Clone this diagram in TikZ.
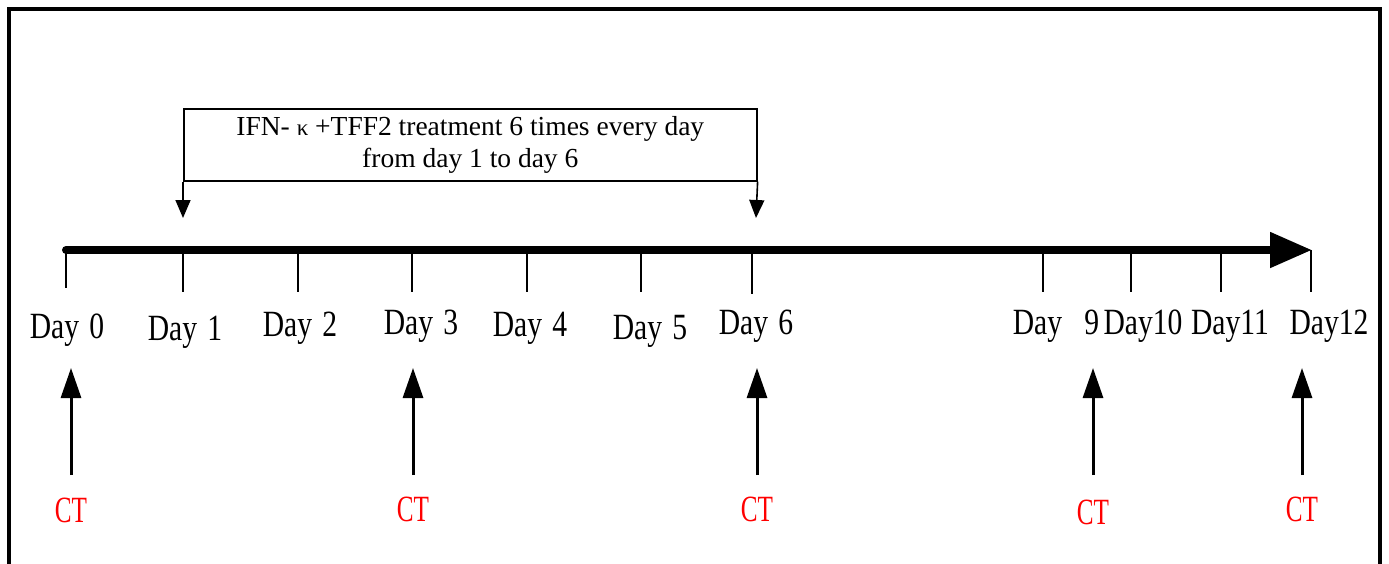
\documentclass[tikz,border=0pt]{standalone}
\usepackage{fontspec}
\setmainfont{Liberation Serif}
\usetikzlibrary{arrows.meta}
\begin{document}
\begin{tikzpicture}[x=1pt,y=-1pt,
  frame/.style={line width=4pt},
  tick/.style={line width=1.8pt},
  daylbl/.style={font=\fontsize{37}{37}\selectfont, anchor=base, inner sep=0pt},
  ctlbl/.style={font=\fontsize{37}{37}\selectfont, text=red, anchor=base, inner sep=0pt},
  ctarrow/.style={line width=3pt, -{Triangle[length=30pt,width=20pt]}},
  treatbox/.style={draw, line width=1.6pt, minimum width=573pt, minimum height=72pt, anchor=north west, inner sep=0pt, align=center, font=\fontsize{27.5}{32}\selectfont},
  treatarrow/.style={line width=1.6pt, -{Triangle[length=18pt,width=15pt]}},
  axis/.style={line width=8pt, line cap=round, -{Triangle[length=42pt,width=34pt]}}
]
\useasboundingbox (0,0) rectangle (1389,563);
% outer frame
\coordinate (fbl) at (9,600);
\coordinate (ftl) at (9,9);
\coordinate (ftr) at (1380,9);
\coordinate (fbr) at (1380,600);
\draw[frame] (fbl) -- (ftl) -- (ftr) -- (fbr);

% treatment box
\node[treatbox] (box) at (183,108) {\raisebox{-2pt}{IFN- {\fontsize{23}{23}\selectfont κ} +TFF2 treatment 6 times every day}\\\raisebox{-2pt}{from day 1 to day 6}};
\coordinate (ta1) at (183,218);
\coordinate (ta6) at (756,218);
\draw[treatarrow] (box.south west) -- (ta1);
\draw[treatarrow] (box.south east) -- (ta6);

% axis
\coordinate (t0) at (66,250);
\coordinate (tend) at (1312,250);
\draw[axis] (t0) -- (tend);

% ticks
\foreach \n/\x/\b in {0/66/288,1/183/292,2/298/292,3/412/292,4/527/292,5/641/292,6/752/294,9/1043/292,10/1131/292,11/1221/292,12/1311/292}{
  \coordinate (ka\n) at (\x,250);
  \coordinate (kb\n) at (\x,\b);
  \draw[tick] (ka\n) -- (kb\n);
}

% day labels
\node[daylbl] (d0) at (67,338) {\scalebox{0.8}[1]{Day\hspace{0.35em}0}};
\node[daylbl] (d1) at (185,340) {\scalebox{0.8}[1]{Day\hspace{0.35em}1}};
\node[daylbl] (d2) at (300,336) {\scalebox{0.8}[1]{Day\hspace{0.35em}2}};
\node[daylbl] (d3) at (421,334) {\scalebox{0.8}[1]{Day\hspace{0.35em}3}};
\node[daylbl] (d4) at (530,336) {\scalebox{0.8}[1]{Day\hspace{0.35em}4}};
\node[daylbl] (d5) at (650,339) {\scalebox{0.8}[1]{Day\hspace{0.35em}5}};
\node[daylbl] (d6) at (756,334) {\scalebox{0.8}[1]{Day\hspace{0.35em}6}};
\node[daylbl] (d9) at (1056,334) {\scalebox{0.8}[1]{Day\hspace{0.75em}9}};
\node[daylbl] (d10) at (1143,334) {\scalebox{0.8}[1]{Day10}};
\node[daylbl] (d11) at (1230,334) {\scalebox{0.8}[1]{Day11}};
\node[daylbl] (d12) at (1329,334) {\scalebox{0.8}[1]{Day12}};

% CT arrows and labels
\foreach \n/\x/\y in {0/71/522,3/413/521,6/757/521,9/1093/524,12/1302/521}{
  \coordinate (cb\n) at (\x,475);
  \coordinate (ct\n) at (\x,368);
  \draw[ctarrow] (cb\n) -- (ct\n);
  \node[ctlbl] (ctl\n) at (\x,\y) {\scalebox{0.68}[1]{CT}};
}
\end{tikzpicture}
\end{document}
